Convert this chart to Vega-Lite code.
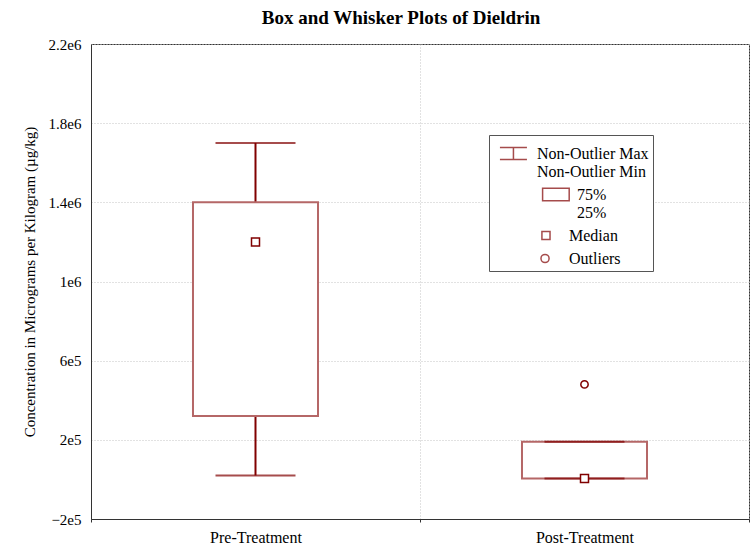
{
  "$schema": "https://vega.github.io/schema/vega-lite/v6.json",
  "width": 658,
  "height": 475,
  "autosize": {"type": "none"},
  "padding": {"left": 91, "top": 44, "right": 4, "bottom": 29},
  "background": "white",
  "title": {
    "text": "Box and Whisker Plots of Dieldrin",
    "font": "Liberation Serif",
    "fontSize": 19,
    "fontWeight": "bold",
    "color": "black",
    "anchor": "middle",
    "frame": "group",
    "dx": -19,
    "offset": 9
  },
  "datasets": {
    "stats": [
      {"group": "Pre-Treatment", "min": 20000, "q1": 320000, "median": 1200000, "q3": 1400000, "max": 1700000},
      {"group": "Post-Treatment", "min": 5000, "q1": 5000, "median": 5000, "q3": 190000, "max": 190000}
    ],
    "outliers": [
      {"group": "Post-Treatment", "value": 480000}
    ],
    "legendItems": [
      {"item": "Non-Outlier Max|Non-Outlier Min"},
      {"item": "75%|25%"},
      {"item": "Median"},
      {"item": "Outliers"}
    ]
  },
  "encoding": {
    "x": {
      "field": "group",
      "type": "nominal",
      "sort": ["Pre-Treatment", "Post-Treatment"],
      "scale": {"type": "band", "paddingInner": 0, "paddingOuter": 0, "domain": ["Pre-Treatment", "Post-Treatment"]},
      "axis": {
        "title": null,
        "labelAngle": 0,
        "labelFont": "Liberation Serif",
        "labelFontSize": 16,
        "labelColor": "black",
        "labelPadding": 7,
        "tickBand": "extent",
        "ticks": true,
        "tickSize": 3,
        "tickColor": "#333",
        "domainColor": "#333",
        "grid": true,
        "gridColor": "#c4c4c4",
        "gridDash": [1, 2]
      }
    }
  },
  "layer": [
    {
      "data": {"name": "stats"},
      "mark": {"type": "rule", "stroke": "#800000", "strokeWidth": 2},
      "encoding": {
        "y": {
          "field": "q3",
          "type": "quantitative",
          "scale": {"domain": [-200000, 2200000], "nice": false, "zero": false},
          "axis": {
            "title": "Concentration in Micrograms per Kilogram (µg/kg)",
            "titleFont": "Liberation Serif",
            "titleFontSize": 15,
            "titleFontWeight": "normal",
            "titleColor": "black",
            "titlePadding": 11,
            "values": [-200000, 200000, 600000, 1000000, 1400000, 1800000, 2200000],
            "labelExpr": "replace(format(datum.value, '~e'), '+', '')",
            "labelFont": "Liberation Serif",
            "labelFontSize": 15,
            "labelColor": "black",
            "labelPadding": 10,
            "ticks": false,
            "domainColor": "#333",
            "grid": true,
            "gridColor": "#c4c4c4",
            "gridDash": [1, 2]
          }
        },
        "y2": {"field": "max"}
      }
    },
    {
      "data": {"name": "stats"},
      "mark": {"type": "rule", "stroke": "#800000", "strokeWidth": 2},
      "encoding": {
        "y": {"field": "min", "type": "quantitative"},
        "y2": {"field": "q1"}
      }
    },
    {
      "data": {"name": "stats"},
      "mark": {"type": "bar", "fill": "white", "stroke": "#b56767", "strokeWidth": 2, "width": {"band": 0.38}},
      "encoding": {
        "y": {"field": "q1", "type": "quantitative"},
        "y2": {"field": "q3"}
      }
    },
    {
      "data": {"name": "stats"},
      "mark": {"type": "tick", "color": "#800000", "size": 80, "thickness": 2, "orient": "horizontal"},
      "encoding": {
        "y": {"field": "max", "type": "quantitative"}
      }
    },
    {
      "data": {"name": "stats"},
      "mark": {"type": "tick", "color": "#800000", "size": 80, "thickness": 2, "orient": "horizontal"},
      "encoding": {
        "y": {"field": "min", "type": "quantitative"}
      }
    },
    {
      "data": {"name": "stats"},
      "mark": {"type": "point", "shape": "square", "size": 64, "fill": "white", "stroke": "#800000", "strokeWidth": 1.5, "filled": false, "opacity": 1},
      "encoding": {
        "y": {"field": "median", "type": "quantitative"}
      }
    },
    {
      "data": {"name": "outliers"},
      "mark": {"type": "point", "shape": "circle", "size": 54, "fill": "white", "stroke": "#800000", "strokeWidth": 1.5, "filled": false, "opacity": 1},
      "encoding": {
        "y": {"field": "value", "type": "quantitative"}
      }
    },
    {
      "data": {"name": "legendItems"},
      "mark": {"type": "point", "size": 0, "strokeWidth": 0, "stroke": "#800000", "fill": "white", "filled": false},
      "encoding": {
        "shape": {
          "field": "item",
          "type": "nominal",
          "scale": {
            "domain": ["Non-Outlier Max|Non-Outlier Min", "75%|25%", "Median", "Outliers"],
            "range": [
              "M-0.56,-0.44H1.44M0.44,-0.44V0.44M-0.56,0.44H1.44",
              "M2.6,-0.47H4.57V0.47H2.6Z",
              "M2.55,-0.3H3.15V0.3H2.55Z",
              "M3.08,0A0.3,0.3 0 1,1 2.48,0A0.3,0.3 0 1,1 3.08,0Z"
            ]
          },
          "legend": {
            "title": null,
            "orient": "none",
            "legendX": 398,
            "legendY": 91,
            "padding": 4,
            "strokeColor": "#555",
            "fillColor": "white",
            "symbolSize": 729,
            "labelFont": "Liberation Serif",
            "labelFontSize": 16,
            "labelColor": "black",
            "labelOffset": 15,
            "rowPadding": 0,
            "labelExpr": "indexof(datum.label, '75%') >= 0 ? ['\u200b\u00a0\u00a0\u00a0\u00a0\u00a0\u00a0\u00a0\u00a0\u00a0\u00a075%', '\u200b\u00a0\u00a0\u00a0\u00a0\u00a0\u00a0\u00a0\u00a0\u00a0\u00a025%'] : indexof(datum.label, 'Non-Outlier') >= 0 ? split(datum.label, '|') : '\u200b\u00a0\u00a0\u00a0\u00a0\u00a0\u00a0\u00a0\u00a0' + datum.label",
            "encode": {
              "symbols": {
                "update": {
                  "stroke": {"value": "#800000"},
                  "fill": {"value": "white"},
                  "opacity": {"value": 1},
                  "strokeWidth": {"value": 1.5},
                  "size": {"value": 729}
                }
              }
            }
          }
        }
      }
    }
  ],
  "config": {
    "view": {"stroke": "#333", "strokeWidth": 1},
    "font": "Liberation Serif"
  }
}
